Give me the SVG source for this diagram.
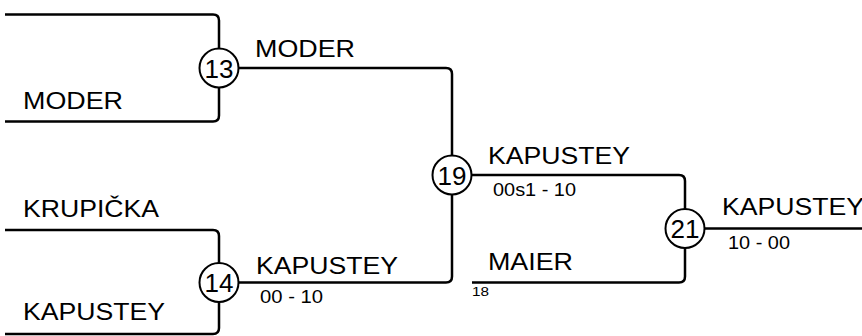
<svg xmlns="http://www.w3.org/2000/svg" width="862" height="336" viewBox="0 0 862 336">
<style>
.ln{fill:none;stroke:#000;stroke-width:2.5}
.nd circle{fill:#fff;stroke:#000;stroke-width:2}
.num{font-family:"Liberation Sans",Arial,sans-serif;font-size:26px;text-anchor:middle;fill:#000}
.lb{font-family:"Liberation Sans",Arial,sans-serif;font-size:24px;fill:#000}
.sc{font-family:"Liberation Sans",Arial,sans-serif;font-size:17.5px;fill:#000}
.sm{font-family:"Liberation Sans",Arial,sans-serif;font-size:13.5px;fill:#000}
</style>
<rect width="862" height="336" fill="#fff"/>
<g id="connectors">
<path class="ln" d="M5,14.5 H213 Q219,14.5 219,20.5 V68"/>
<path class="ln" d="M5,121.5 H213 Q219,121.5 219,115.5 V68"/>
<path class="ln" d="M219,68 H446 Q452,68 452,74 V175"/>
<path class="ln" d="M5,230 H213 Q219,230 219,236 V282.5"/>
<path class="ln" d="M5,334 H213 Q219,334 219,328 V282.5"/>
<path class="ln" d="M219,282.5 H446 Q452,282.5 452,276.5 V175"/>
<path class="ln" d="M452,175 H679 Q685,175 685,181 V228.5"/>
<path class="ln" d="M472,282.5 H679 Q685,282.5 685,276.5 V228.5"/>
<path class="ln" d="M685,228.5 H862"/>
</g>
<g id="labels">
<text class="lb" x="23" y="109" textLength="100" lengthAdjust="spacingAndGlyphs">MODER</text>
<text class="lb" x="23" y="217" textLength="136" lengthAdjust="spacingAndGlyphs">KRUPIČKA</text>
<text class="lb" x="23" y="320" textLength="142" lengthAdjust="spacingAndGlyphs">KAPUSTEY</text>
<text class="lb" x="255" y="57" textLength="100" lengthAdjust="spacingAndGlyphs">MODER</text>
<text class="lb" x="256" y="274" textLength="142" lengthAdjust="spacingAndGlyphs">KAPUSTEY</text>
<text class="sc" x="260" y="303" textLength="63" lengthAdjust="spacingAndGlyphs">00 - 10</text>
<text class="lb" x="488" y="164" textLength="142" lengthAdjust="spacingAndGlyphs">KAPUSTEY</text>
<text class="sc" x="493" y="196" textLength="83" lengthAdjust="spacingAndGlyphs">00s1 - 10</text>
<text class="lb" x="488" y="270" textLength="85" lengthAdjust="spacingAndGlyphs">MAIER</text>
<text class="sm" x="472" y="296" textLength="17" lengthAdjust="spacingAndGlyphs">18</text>
<text class="lb" x="722" y="215" textLength="142" lengthAdjust="spacingAndGlyphs">KAPUSTEY</text>
<text class="sc" x="728" y="249" textLength="62" lengthAdjust="spacingAndGlyphs">10 - 00</text>
</g>
<g id="n13" class="nd"><circle cx="219" cy="68" r="19.5"/><text class="num" x="219" y="77.5">13</text></g>
<g id="n14" class="nd"><circle cx="219" cy="282.5" r="19.5"/><text class="num" x="219" y="292">14</text></g>
<g id="n19" class="nd"><circle cx="452" cy="175" r="19.5"/><text class="num" x="452" y="184.5">19</text></g>
<g id="n21" class="nd"><circle cx="685" cy="228.5" r="19.5"/><text class="num" x="685" y="238">21</text></g>
</svg>
